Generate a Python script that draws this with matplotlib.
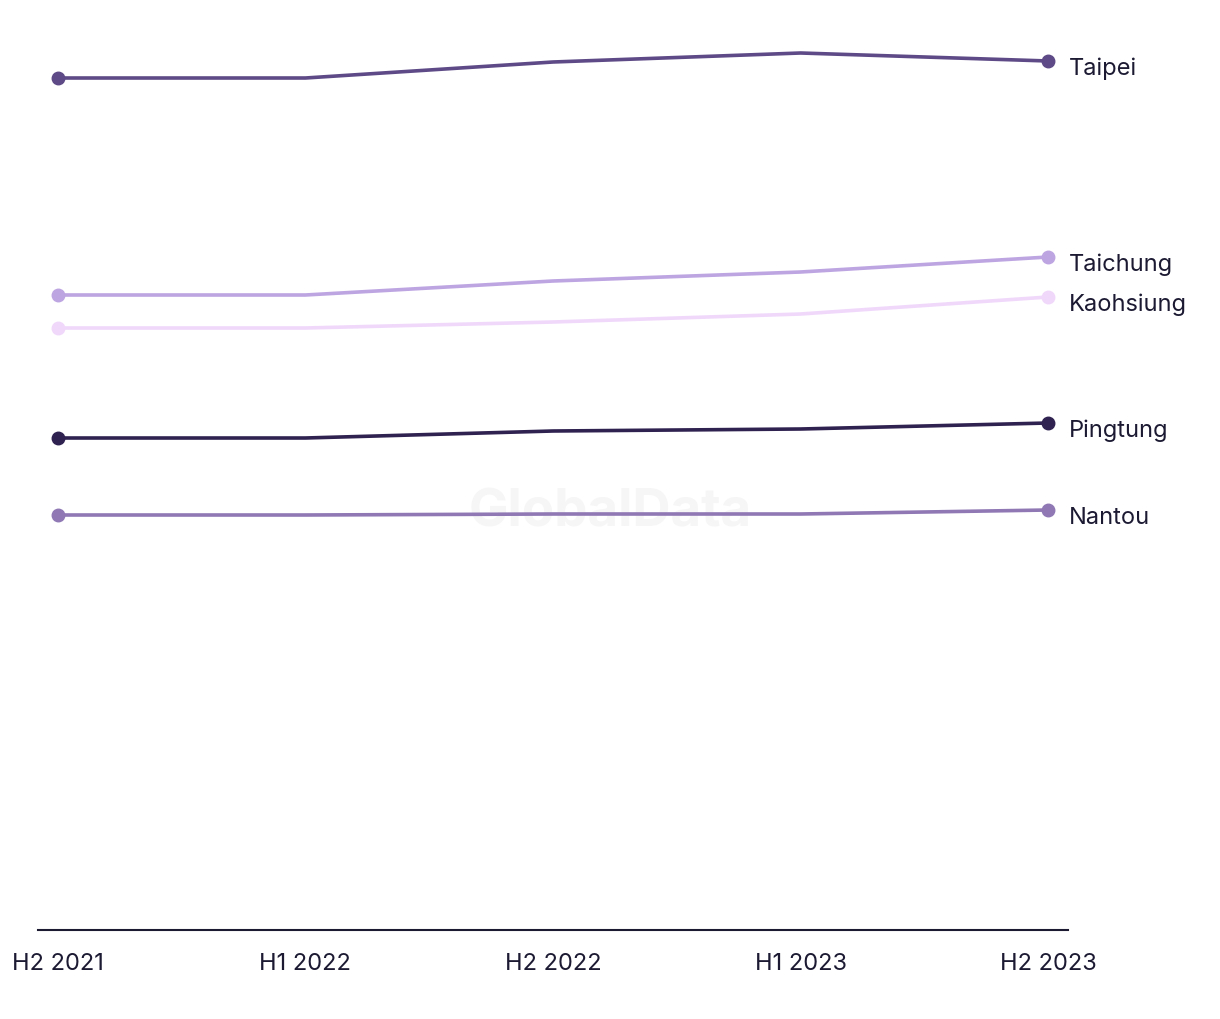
import matplotlib
matplotlib.use("Agg")
import matplotlib.pyplot as plt

plt.rcParams['font.family'] = ['Inter', 'DejaVu Sans']

periods = ["H2 2021", "H1 2022", "H2 2022", "H1 2023", "H2 2023"]
taipei = [85.2, 85.2, 86.8, 87.7, 86.9]
taichung = [63.5, 63.5, 64.9, 65.8, 67.3]
kaohsiung = [60.2, 60.2, 60.8, 61.6, 63.3]
pingtung = [49.2, 49.2, 49.9, 50.1, 50.7]
nantou = [41.5, 41.5, 41.6, 41.6, 42.0]

series = [
    ("Taipei", taipei, "#5d4a86"),
    ("Taichung", taichung, "#bda5e2"),
    ("Kaohsiung", kaohsiung, "#f0d8fb"),
    ("Pingtung", pingtung, "#2f2150"),
    ("Nantou", nantou, "#8f78b4"),
]

fig = plt.figure(figsize=(12.2, 10.2), dpi=100)
ax = fig.add_axes([38/1220, 89/1020, (1068-38)/1220, 900/1020])

x = list(range(len(periods)))
for name, vals, col in series:
    # markers only on first and last point
    ax.plot(x, vals, color=col, lw=2.6, marker="o", ms=9, markevery=[0, len(x) - 1],
            solid_capstyle="round", zorder=3)
    ax.annotate(name, (x[-1], vals[-1]), xytext=(15, -5), textcoords="offset points",
                va="center", ha="left", fontsize=17, color="#1c1a33", annotation_clip=False)

# watermark sits behind the lines
ax.text(0.5, 0.497, "GlobalData", transform=fig.transFigure, ha="center", va="center",
        fontsize=38, fontweight="bold", color="#f6f6f6", zorder=0)

ax.set_xlim(-0.08, 4.08)
ax.set_ylim(0, 90)
ax.set_xticks(x)
ax.set_xticklabels(periods, fontsize=17, color="#1c1a33")
ax.tick_params(axis="x", length=0, pad=16)
ax.set_yticks([])
for s in ["top", "right", "left"]:
    ax.spines[s].set_visible(False)
ax.spines["bottom"].set_color("#1c1a33")
ax.spines["bottom"].set_linewidth(1.5)

fig.savefig("out.png", dpi=100)
